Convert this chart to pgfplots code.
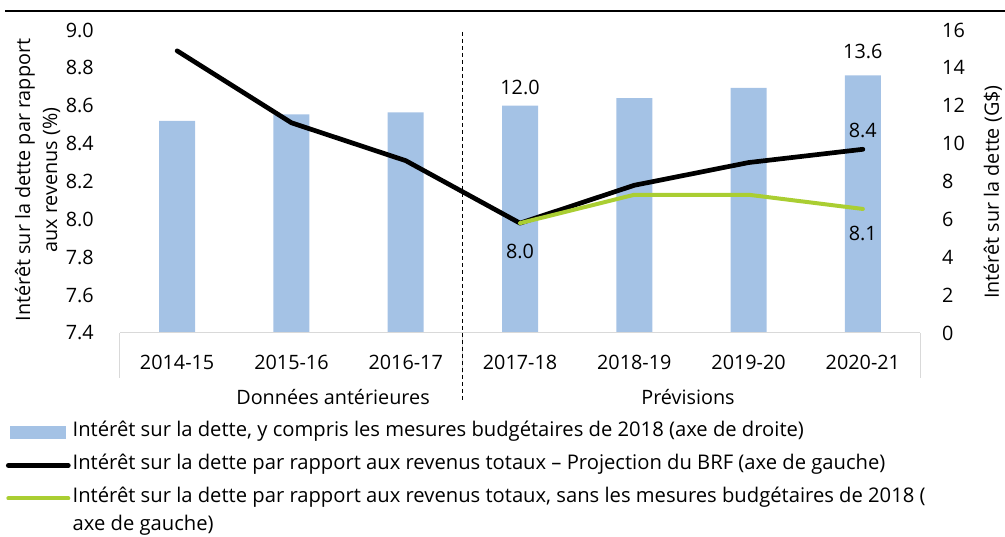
\documentclass[border=0pt]{standalone}
\usepackage{pgfplots}
\pgfplotsset{compat=1.18}
\usepackage{fontspec}
\setmainfont{Open Sans}
\definecolor{barblue}{RGB}{164,194,229}
\definecolor{lgreen}{RGB}{170,206,50}
\definecolor{axgray}{RGB}{217,217,217}
\newcommand{\fs}{\fontsize{19.8}{24}\selectfont}
\newcommand{\lfs}{\fontsize{20.2}{24}\selectfont}
\pgfplotsset{
  barlegend/.style={legend image code/.code={\fill[barblue] (2pt,-6pt) rectangle (57pt,6.5pt);}},
}
\begin{document}
\begin{tikzpicture}[x=1pt,y=1pt,font=\fs]
\path[use as bounding box] (0,0) rectangle (1005,537);
\draw[line width=1.3pt] (5,526) -- (1005,526);

% bars, right axis
\begin{axis}[
  at={(120pt,204pt)}, anchor=south west,
  scale only axis, width=800pt, height=303pt,
  xmin=-0.5, xmax=6.5, ymin=0, ymax=16,
  axis x line=none, axis y line*=right,
  axis line style={-},
  y axis line style={draw=none},
  ytick={0,2,4,6,8,10,12,14,16},
  yticklabels={0,2,4,6,8,10,12,14,16},
  major tick length=0pt,
  yticklabel style={anchor=west, inner sep=0pt, xshift=22pt, font=\fs},
  ylabel={Intérêt sur la dette (G\$)},
  ylabel style={at={(axis description cs:1.091,0.465)}, anchor=center, rotate=0, font=\fs},
  clip=false,
]
\addplot[ybar, bar width=36pt, fill=barblue, draw=none] coordinates {
  (0,11.2) (1,11.55) (2,11.65) (3,12.0) (4,12.4) (5,12.95) (6,13.6)};
\node at (axis cs:3,12.94) {12.0};
\node at (axis cs:6,14.85) {13.6};
\end{axis}

% lines, left axis
\begin{axis}[
  at={(120pt,204pt)}, anchor=south west,
  scale only axis, width=800pt, height=303pt,
  xmin=-0.5, xmax=6.5, ymin=7.4, ymax=9.0,
  axis x line*=bottom, axis y line*=left,
  axis line style={-},
  x axis line style={draw=axgray, line width=1pt},
  y axis line style={draw=none},
  xtick={0,1,2,3,4,5,6},
  xticklabels={2014-15,2015-16,2016-17,2017-18,2018-19,2019-20,2020-21},
  ytick={7.4,7.6,7.8,8.0,8.2,8.4,8.6,8.8,9.0},
  yticklabels={7.4,7.6,7.8,8.0,8.2,8.4,8.6,8.8,9.0},
  major tick length=0pt,
  yticklabel style={anchor=east, inner sep=0pt, xshift=-26pt, font=\fs},
  xticklabel style={anchor=north, inner sep=0pt, yshift=-22pt, font=\fs},
  ylabel={Intérêt sur la dette par rapport\\aux revenus (\%)},
  ylabel style={at={(axis description cs:-0.103,0.505)}, anchor=center, align=center, font=\fontsize{19.8}{27}\selectfont},
  clip=false,
  legend image code/.code={\draw[#1] (0pt,0pt) -- (60pt,0pt);},
  legend cell align=left,
  legend style={at={(axis description cs:-0.1425,-0.297)}, anchor=north west,
    draw=none, fill=none, inner sep=0pt, outer sep=0pt, row sep=14pt, column sep=2pt,
    nodes={inner sep=0pt, text height=14pt, text depth=5pt},
    font=\lfs},
]
\addlegendimage{barlegend}
\addlegendentry{Intérêt sur la dette, y compris les mesures budgétaires de 2018 (axe de droite)}
\addplot[black, line width=4.7pt, line join=round, line cap=round] coordinates {
  (0,8.89) (1,8.51) (2,8.31) (3,7.98) (4,8.18) (5,8.30) (6,8.37)};
\addlegendentry{Intérêt sur la dette par rapport aux revenus totaux – Projection du BRF (axe de gauche)}
\addplot[lgreen, line width=4pt, line join=round, line cap=round] coordinates {
  (3,7.98) (4,8.13) (5,8.13) (6,8.055)};
\addlegendentry{\vtop{\baselineskip=28pt\hbox{Intérêt sur la dette par rapport aux revenus totaux, sans les mesures budgétaires de 2018 (}\hbox{axe de gauche)}}}
\node at (axis cs:3,7.828) {8.0};
\node at (axis cs:6,8.467) {8.4};
\node at (axis cs:6,7.928) {8.1};
% category group separators
\draw[axgray, line width=1pt] (axis cs:-0.5,7.4) -- ([yshift=-45pt]axis cs:-0.5,7.4);
\draw[axgray, line width=1pt] (axis cs:6.5,7.4) -- ([yshift=-45pt]axis cs:6.5,7.4);
\draw[axgray, line width=1pt] (axis cs:2.5,7.4) -- ([yshift=-40pt]axis cs:2.5,7.4);
\draw[black, line width=0.8pt, dash pattern=on 4pt off 3pt] (axis cs:2.5,8.99) -- ([yshift=-67pt]axis cs:2.5,7.4);
\node at ([yshift=-64pt]axis cs:1.364,7.4) {Données antérieures};
\node at ([yshift=-64pt]axis cs:4.47,7.4) {Prévisions};
\end{axis}
\end{tikzpicture}
\end{document}
